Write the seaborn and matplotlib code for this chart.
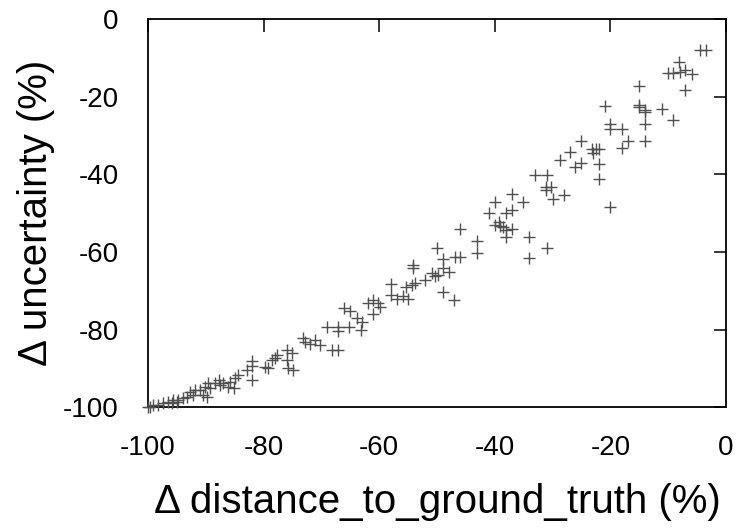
import matplotlib
matplotlib.use("Agg")
import matplotlib.pyplot as plt
import seaborn as sns
import pandas as pd

delta_distance = [
    -4.5, -3.5, -8.1, -10.0, -9.2, -8.0, -7.1, -5.9, -7.1, -14.0, -11.1, -9.2,
    -15.0, -21.0, -15.0, -15.0, -14.0, -20.1, -20.1, -18.0, -14.0,
    -16.9, -14.0, -25.0, -27.0, -23.2, -22.4, -21.9, -23.0, -18.0,
    -28.7, -25.0, -26.1, -22.0, -22.0, -28.0, -20.1,
    -33.0, -31.0, -31.1, -31.1, -30.2, -30.0,
    -37.1, -40.0, -35.1, -41.0, -38.0, -37.1,
    -40.0, -39.2, -39.1, -38.5, -38.0, -37.1,
    -38.0, -34.0, -43.0, -46.0, -43.0, -31.0, -34.0,
    -50.0, -49.0, -46.9, -46.0, -54.1, -54.1,
    -50.9, -50.3, -49.8, -49.0, -48.0, -52.1, -58.0,
    -55.3, -54.4, -53.8, -49.0, -47.1,
    -58.0, -57.0, -55.9, -55.0, -62.0, -61.0, -60.2, -59.9, -61.0,
    -66.0, -65.1, -63.9, -63.0,
    -69.1, -67.2, -67.1, -65.2, -63.1,
    -73.1, -72.8, -72.0, -71.1, -70.2, -68.2, -67.2,
    -76.0, -75.1, -76.0, -75.7, -74.9,
    -77.7, -78.6, -78.0, -79.8, -79.2,
    -82.0, -82.0, -82.9, -82.0,
    -84.4, -85.0, -85.8, -87.0, -86.1, -85.2,
    -87.8, -87.5, -88.4, -89.6, -90.1, -89.3,
    -91.0, -90.4, -89.8, -92.7, -92.2, -91.9, -93.3,
    -93.9, -94.8, -95.6, -95.0, -95.9, -96.5,
    -97.4, -98.2, -99.1, -99.7, -100.0,
]
delta_uncertainty = [
    -8.0, -8.0, -11.0, -13.8, -13.8, -13.5, -13.0, -14.0, -18.2, -23.4, -23.2, -26.0,
    -17.2, -22.2, -22.0, -22.6, -24.0, -27.0, -28.3, -28.3, -27.0,
    -31.3, -31.3, -31.3, -34.1, -33.4, -33.4, -33.4, -34.4, -33.2,
    -36.3, -37.1, -38.1, -37.3, -41.2, -45.3, -48.3,
    -40.1, -40.1, -43.1, -44.0, -43.3, -46.4,
    -45.0, -47.2, -47.2, -50.0, -50.0, -49.2,
    -53.0, -52.2, -53.3, -53.6, -54.3, -54.1,
    -56.2, -56.2, -57.2, -54.1, -60.3, -59.0, -61.6,
    -59.0, -61.9, -61.2, -61.2, -63.4, -64.2,
    -65.5, -66.1, -65.9, -64.2, -65.1, -67.2, -68.3,
    -69.0, -68.5, -68.1, -70.2, -72.4,
    -71.1, -72.0, -71.3, -72.1, -73.2, -72.4, -73.2, -74.1, -76.1,
    -74.4, -75.2, -77.1, -78.0,
    -79.3, -79.3, -80.3, -79.3, -80.1,
    -82.3, -83.1, -83.7, -82.7, -84.0, -85.3, -85.3,
    -85.3, -86.1, -87.9, -90.0, -90.5,
    -86.6, -87.9, -87.4, -89.6, -90.0,
    -88.0, -89.5, -90.5, -93.0,
    -91.7, -92.6, -93.5, -93.9, -94.8, -95.2,
    -93.0, -94.3, -93.9, -93.9, -94.8, -95.2,
    -95.6, -96.9, -97.3, -96.0, -96.9, -95.6, -97.3,
    -97.8, -98.3, -98.3, -98.6, -99.0, -98.6,
    -99.0, -99.5, -99.5, -99.9, -100.0,
]

df = pd.DataFrame({"dist": delta_distance, "unc": delta_uncertainty})

sns.set_theme(style="white")
plt.rcParams["font.family"] = ["Liberation Sans", "DejaVu Sans"]
plt.rcParams["axes.unicode_minus"] = False
plt.rcParams["text.color"] = "black"
plt.rcParams["axes.labelcolor"] = "black"
plt.rcParams["xtick.color"] = "black"
plt.rcParams["ytick.color"] = "black"

fig = plt.figure(figsize=(7.4, 5.31), dpi=100)
ax = fig.add_axes([0.2, 0.2335, 0.781, 0.7298])

sns.scatterplot(data=df, x="dist", y="unc", marker="+", color="#505050",
                s=80, linewidth=1.0, ax=ax, clip_on=False, zorder=3)

ax.set_xlim(-100, 0)
ax.set_ylim(-100, 0)
ax.set_xticks([-100, -80, -60, -40, -20, 0])
ax.set_yticks([-100, -80, -60, -40, -20, 0])
ax.tick_params(axis="both", which="major", direction="in", length=9, width=1.1,
               color="black", labelcolor="black", labelsize=20,
               top=True, right=True)
ax.tick_params(axis="x", pad=20)
ax.tick_params(axis="y", pad=21)
for sp in ax.spines.values():
    sp.set_visible(True)
    sp.set_color("black")
    sp.set_linewidth(1.3)

ax.set_xlabel("\u0394 distance_to_ground_truth (%)", fontsize=29, labelpad=16)
ax.set_ylabel("\u0394 uncertainty (%)", fontsize=29, labelpad=6)

fig.savefig("out.png", dpi=100)
